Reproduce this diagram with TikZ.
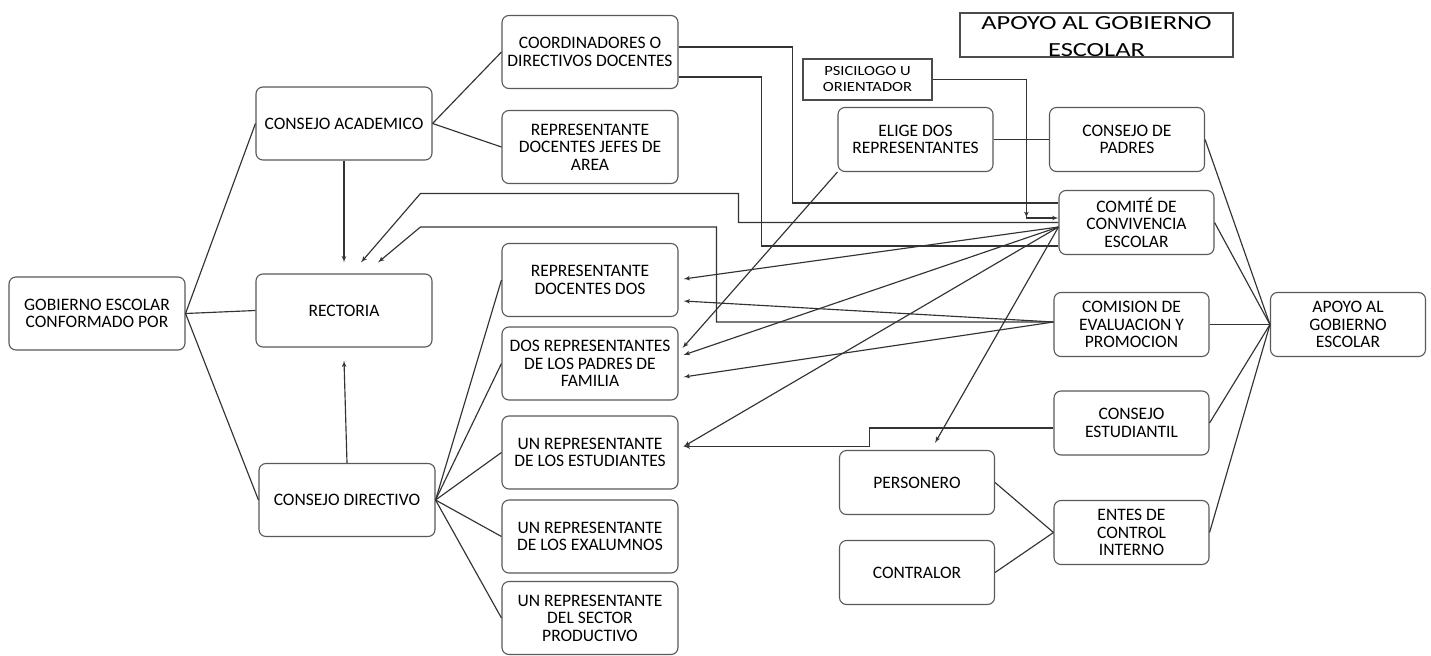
\documentclass[tikz,border=0pt]{standalone}
\usepackage{fontspec}
\setmainfont{Carlito}
\newfontfamily\titulofont[FakeStretch=1.32]{Carlito}
\newfontfamily\psifont[FakeStretch=1.18]{Carlito}
\usepackage{tikz}
\usetikzlibrary{shapes, arrows, positioning, calc}

\begin{document}
\begin{tikzpicture}[
    x=1pt, y=1pt,
    node distance=80pt,
    caja/.style={
        rectangle,
        draw=black!65,
        line width=1.1pt,
        fill=white,
        align=center,
        rounded corners=7pt,
        minimum width=176pt,
        minimum height=73pt,
        inner sep=2pt,
        font=\fontsize{17.5}{17.5}\selectfont
    },
    cajita/.style={
        caja,
        minimum width=155pt,
        minimum height=64pt
    },
    marco/.style={
        rectangle,
        draw=black!70,
        line width=1.1pt,
        align=center,
        inner sep=0pt
    },
    linea/.style={
        draw=black!80,
        line width=1.15pt
    },
    flecha/.style={
        linea,
        -latex'
    }
]

\fill [white] (0,0) rectangle (1431,-655);

% Gobierno escolar
\node [caja] (gob) at (97,-313.5) {GOBIERNO ESCOLAR\\CONFORMADO POR};
\node [caja, right of=gob, node distance=247pt, yshift=190pt] (acad) {CONSEJO ACADEMICO};
\node [caja, right of=gob, node distance=247pt, yshift=3pt] (rect) {RECTORIA};
\node [caja, right of=gob, node distance=250pt, yshift=-186.5pt] (direc) {CONSEJO DIRECTIVO};
\node [caja, right of=acad, node distance=246pt, yshift=71.5pt] (coord) {COORDINADORES O\\DIRECTIVOS DOCENTES};
\node [caja, below of=coord, node distance=95pt] (jefes) {REPRESENTANTE\\DOCENTES JEFES DE\\AREA};
\node [caja, below of=jefes, node distance=133pt] (docdos) {REPRESENTANTE\\DOCENTES DOS};
\node [caja, below of=docdos, node distance=83.5pt] (padres) {DOS REPRESENTANTES\\DE LOS PADRES DE\\FAMILIA};
\node [caja, below of=padres, node distance=89pt] (estud) {UN REPRESENTANTE\\DE LOS ESTUDIANTES};
\node [caja, below of=estud, node distance=84pt] (exal) {UN REPRESENTANTE\\DE LOS EXALUMNOS};
\node [caja, below of=exal, node distance=81.5pt] (prod) {UN REPRESENTANTE\\DEL SECTOR\\PRODUCTIVO};

% Apoyo al gobierno escolar
\node [cajita, right of=jefes, node distance=325.5pt, yshift=7.5pt] (elige) {ELIGE DOS\\REPRESENTANTES};
\node [cajita, right of=elige, node distance=211.5pt] (cpadres) {CONSEJO DE\\PADRES};
\node [cajita, below of=cpadres, node distance=83pt, xshift=9.5pt] (comite) {COMITÉ DE\\CONVIVENCIA\\ESCOLAR};
\node [cajita, below of=comite, node distance=102pt, xshift=-5pt] (comision) {COMISION DE\\EVALUACION Y\\PROMOCION};
\node [cajita, right of=comision, node distance=216.5pt] (apoyo) {APOYO AL\\GOBIERNO\\ESCOLAR};
\node [cajita, below of=comision, node distance=98.5pt] (cestud) {CONSEJO\\ESTUDIANTIL};
\node [cajita, below of=cestud, node distance=109.5pt] (entes) {ENTES DE\\CONTROL\\INTERNO};
\node [cajita, left of=entes, node distance=214.5pt, yshift=50pt] (personero) {PERSONERO};
\node [cajita, below of=personero, node distance=90pt] (contralor) {CONTRALOR};
\node [marco, above of=elige, node distance=60pt, xshift=-48pt, minimum width=129pt, minimum height=41pt,
    font=\psifont\fontsize{14}{16}\selectfont] (psi) {PSICILOGO U\\ORIENTADOR};
\node [marco, above of=cpadres, node distance=104.5pt, xshift=-30.5pt, minimum width=273pt, minimum height=44pt,
    text height=43pt, text depth=0pt,
    font=\titulofont\fontsize{20}{27}\selectfont] (titulo) {APOYO AL GOBIERNO\\ESCOLAR};

% Paths
\path [linea] (gob.east) -- (acad.west);
\path [linea] (gob.east) -- (rect.west);
\path [linea] (gob.east) -- (direc.west);
\path [linea] (acad.east) -- (coord.west);
\path [linea] (acad.east) -- (jefes.west);
\path [flecha] (acad.south) -- ([yshift=11pt]rect.north);
\path [flecha] (direc.north) -- ([yshift=-13pt]rect.south);
\path [linea] (direc.east) -- (docdos.west);
\path [linea] (direc.east) -- (padres.west);
\path [linea] (direc.east) -- (estud.west);
\path [linea] (direc.east) -- (exal.west);
\path [linea] (direc.east) -- (prod.west);

\path [linea] (elige) -- (cpadres);
\path [linea] (cpadres.east) -- (apoyo.west);
\path [linea] (comite.east) -- (apoyo.west);
\path [linea] (comision.east) -- (apoyo.west);
\path [linea] (cestud.east) -- (apoyo.west);
\path [linea] (entes.east) -- (apoyo.west);
\path [linea] (personero.east) -- (entes.west);
\path [linea] (contralor.east) -- (entes.west);

% Coordinadores hacia el comite
\path [linea] ([yshift=5pt]coord.east) -- ++(114pt,0) |- ([yshift=19.5pt]comite.west);
\path [linea] ([yshift=-25pt]coord.east) -- ++(83pt,0) |- ([yshift=-23.5pt]comite.west);

% Psicologo
\coordinate (giro) at ([xshift=-32pt,yshift=4.5pt]comite.west);
\path [flecha] (psi.east) -| (giro);
\path [flecha] (giro) -- ([yshift=4.5pt]comite.west);

% Vuelta a rectoria
\path [flecha] (comite.west) -| ++(-320pt,29pt) -- ++(-318pt,0) -- ([xshift=17pt,yshift=11pt]rect.north);
\path [flecha] ([yshift=2.5pt]comision.west) -| ++(-337pt,95pt) -- ++(-296pt,0) -- ([xshift=34pt,yshift=11pt]rect.north);

% Comite y comision hacia los representantes
\path [flecha] ([yshift=-4.5pt]comite.west) -- ([xshift=5pt,yshift=1pt]docdos.east);
\path [flecha] ([yshift=-4.5pt]comite.west) -- ([xshift=5pt,yshift=8.5pt]padres.east);
\path [flecha] ([yshift=-4.5pt]comite.west) -- ([xshift=5pt,yshift=6pt]estud.east);
\path [flecha] ([yshift=-4.5pt]comite.west) -- ([xshift=18pt,yshift=7pt]personero.north);
\path [flecha] ([yshift=2.5pt]comision.west) -- ([xshift=5pt,yshift=-21pt]docdos.east);
\path [flecha] ([yshift=2.5pt]comision.west) -- ([xshift=5pt,yshift=-13.5pt]padres.east);
\path [flecha] (elige.south west) -- ([xshift=4pt,yshift=15.5pt]padres.east);
% Consejo estudiantil
\path [flecha] ([yshift=-5pt]cestud.west) -- ++(-184pt,0) |- ([xshift=5pt,yshift=6pt]estud.east);

\end{tikzpicture}
\end{document}
